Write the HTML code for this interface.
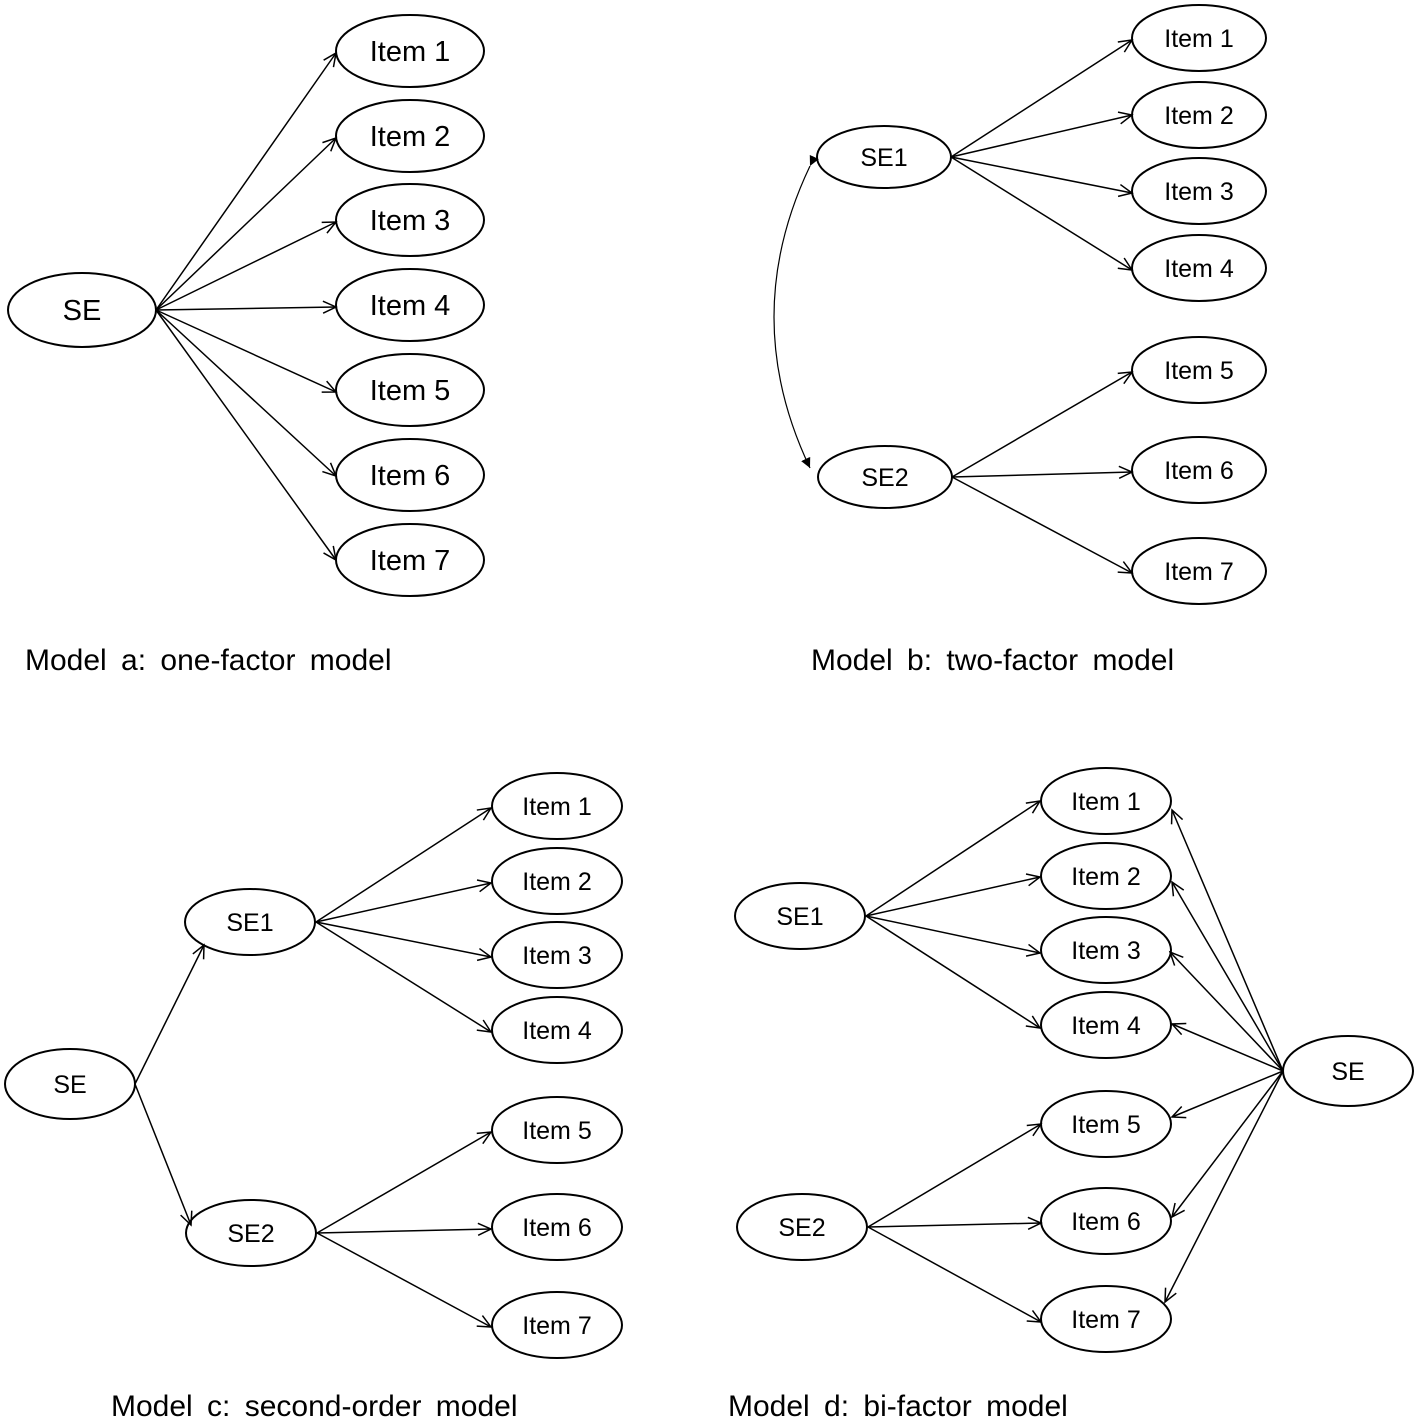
<!DOCTYPE html>
<html><head><meta charset="utf-8"><style>
html,body{margin:0;padding:0;background:#fff}
svg{display:block}
text{font-family:"Liberation Sans",sans-serif;fill:#000}
</style></head><body>
<svg width="1417" height="1422" viewBox="0 0 1417 1422" xmlns="http://www.w3.org/2000/svg">
<defs>
<marker id="o" markerUnits="userSpaceOnUse" markerWidth="20" markerHeight="20" refX="14" refY="7" orient="auto">
<path d="M1,1 L14,7 L1,13" fill="none" stroke="#000" stroke-width="1.5"/></marker>
<marker id="f" markerUnits="userSpaceOnUse" markerWidth="14" markerHeight="14" refX="10" refY="5" orient="auto">
<path d="M0,0 L10,5 L0,10 Z" fill="#000"/></marker>
</defs>
<g fill="#fff" stroke="#000" stroke-width="2">
<!-- Model a -->
<ellipse cx="82" cy="310" rx="74" ry="37"/>
<ellipse cx="410" cy="51" rx="74" ry="36"/>
<ellipse cx="410" cy="136" rx="74" ry="36"/>
<ellipse cx="410" cy="220" rx="74" ry="36"/>
<ellipse cx="410" cy="305" rx="74" ry="36"/>
<ellipse cx="410" cy="390" rx="74" ry="36"/>
<ellipse cx="410" cy="475" rx="74" ry="36"/>
<ellipse cx="410" cy="560" rx="74" ry="36"/>
<!-- Model b -->
<ellipse cx="884" cy="157" rx="67" ry="31"/>
<ellipse cx="885" cy="477" rx="67" ry="31"/>
<ellipse cx="1199" cy="38" rx="67" ry="33"/>
<ellipse cx="1199" cy="115" rx="67" ry="33"/>
<ellipse cx="1199" cy="191" rx="67" ry="33"/>
<ellipse cx="1199" cy="268" rx="67" ry="33"/>
<ellipse cx="1199" cy="370" rx="67" ry="33"/>
<ellipse cx="1199" cy="470" rx="67" ry="33"/>
<ellipse cx="1199" cy="571" rx="67" ry="33"/>
<!-- Model c -->
<ellipse cx="70" cy="1084" rx="65" ry="35"/>
<ellipse cx="250" cy="922" rx="65" ry="33"/>
<ellipse cx="251" cy="1233" rx="65" ry="33"/>
<ellipse cx="557" cy="806" rx="65" ry="33"/>
<ellipse cx="557" cy="881" rx="65" ry="33"/>
<ellipse cx="557" cy="955" rx="65" ry="33"/>
<ellipse cx="557" cy="1030" rx="65" ry="33"/>
<ellipse cx="557" cy="1130" rx="65" ry="33"/>
<ellipse cx="557" cy="1227" rx="65" ry="33"/>
<ellipse cx="557" cy="1325" rx="65" ry="33"/>
<!-- Model d -->
<ellipse cx="800" cy="916" rx="65" ry="33"/>
<ellipse cx="802" cy="1227" rx="65" ry="33"/>
<ellipse cx="1348" cy="1071" rx="65" ry="35"/>
<ellipse cx="1106" cy="801" rx="65" ry="33"/>
<ellipse cx="1106" cy="876" rx="65" ry="33"/>
<ellipse cx="1106" cy="950" rx="65" ry="33"/>
<ellipse cx="1106" cy="1025" rx="65" ry="33"/>
<ellipse cx="1106" cy="1124" rx="65" ry="33"/>
<ellipse cx="1106" cy="1221" rx="65" ry="33"/>
<ellipse cx="1106" cy="1319" rx="65" ry="33"/>
</g>
<g stroke="#000" stroke-width="1.5" fill="none" marker-end="url(#o)">
<!-- a -->
<line x1="156" y1="310" x2="336" y2="53"/>
<line x1="156" y1="310" x2="336" y2="138"/>
<line x1="156" y1="310" x2="336" y2="222"/>
<line x1="156" y1="310" x2="336" y2="307"/>
<line x1="156" y1="310" x2="336" y2="392"/>
<line x1="156" y1="310" x2="336" y2="476"/>
<line x1="156" y1="310" x2="336" y2="560"/>
<!-- b -->
<line x1="951" y1="157" x2="1132" y2="40"/>
<line x1="951" y1="157" x2="1132" y2="115"/>
<line x1="951" y1="157" x2="1132" y2="193"/>
<line x1="951" y1="157" x2="1132" y2="270"/>
<line x1="952" y1="477" x2="1132" y2="372"/>
<line x1="952" y1="477" x2="1132" y2="472"/>
<line x1="952" y1="477" x2="1132" y2="573"/>
<!-- c -->
<line x1="135" y1="1084" x2="204" y2="945"/>
<line x1="135" y1="1084" x2="191" y2="1225"/>
<line x1="316" y1="922" x2="491" y2="808"/>
<line x1="316" y1="922" x2="491" y2="883"/>
<line x1="316" y1="922" x2="491" y2="957"/>
<line x1="316" y1="922" x2="491" y2="1032"/>
<line x1="317" y1="1233" x2="491" y2="1132"/>
<line x1="317" y1="1233" x2="491" y2="1229"/>
<line x1="317" y1="1233" x2="491" y2="1327"/>
<!-- d -->
<line x1="866" y1="916" x2="1040" y2="801"/>
<line x1="866" y1="916" x2="1040" y2="877"/>
<line x1="866" y1="916" x2="1040" y2="953"/>
<line x1="866" y1="916" x2="1040" y2="1028"/>
<line x1="868" y1="1227" x2="1041" y2="1124"/>
<line x1="868" y1="1227" x2="1041" y2="1223"/>
<line x1="868" y1="1227" x2="1041" y2="1322"/>
<line x1="1283" y1="1071" x2="1172" y2="810"/>
<line x1="1283" y1="1071" x2="1172" y2="882"/>
<line x1="1283" y1="1071" x2="1170" y2="952"/>
<line x1="1283" y1="1071" x2="1172" y2="1024"/>
<line x1="1283" y1="1071" x2="1172" y2="1117"/>
<line x1="1283" y1="1071" x2="1172" y2="1217"/>
<line x1="1283" y1="1071" x2="1165" y2="1302"/>
</g>
<path d="M810,166 Q738,317 810,468" fill="none" stroke="#000" stroke-width="1.2" marker-start="url(#f)" marker-end="url(#f)"/>
<g font-size="29" text-anchor="middle">
<text x="82" y="320">SE</text>
<text x="410" y="61">Item 1</text>
<text x="410" y="146">Item 2</text>
<text x="410" y="230">Item 3</text>
<text x="410" y="315">Item 4</text>
<text x="410" y="400">Item 5</text>
<text x="410" y="485">Item 6</text>
<text x="410" y="570">Item 7</text>
</g>
<g font-size="25" text-anchor="middle">
<text x="884" y="166">SE1</text>
<text x="885" y="486">SE2</text>
<text x="1199" y="47">Item 1</text>
<text x="1199" y="124">Item 2</text>
<text x="1199" y="200">Item 3</text>
<text x="1199" y="277">Item 4</text>
<text x="1199" y="379">Item 5</text>
<text x="1199" y="479">Item 6</text>
<text x="1199" y="580">Item 7</text>
<text x="70" y="1093">SE</text>
<text x="250" y="931">SE1</text>
<text x="251" y="1242">SE2</text>
<text x="557" y="815">Item 1</text>
<text x="557" y="890">Item 2</text>
<text x="557" y="964">Item 3</text>
<text x="557" y="1039">Item 4</text>
<text x="557" y="1139">Item 5</text>
<text x="557" y="1236">Item 6</text>
<text x="557" y="1334">Item 7</text>
<text x="800" y="925">SE1</text>
<text x="802" y="1236">SE2</text>
<text x="1348" y="1080">SE</text>
<text x="1106" y="810">Item 1</text>
<text x="1106" y="885">Item 2</text>
<text x="1106" y="959">Item 3</text>
<text x="1106" y="1034">Item 4</text>
<text x="1106" y="1133">Item 5</text>
<text x="1106" y="1230">Item 6</text>
<text x="1106" y="1328">Item 7</text>
</g>
<g font-size="30" word-spacing="6">
<text x="25" y="670">Model a: one-factor model</text>
<text x="811" y="670">Model b: two-factor model</text>
<text x="111" y="1416">Model c: second-order model</text>
<text x="728" y="1416">Model d: bi-factor model</text>
</g>
</svg>
</body></html>
